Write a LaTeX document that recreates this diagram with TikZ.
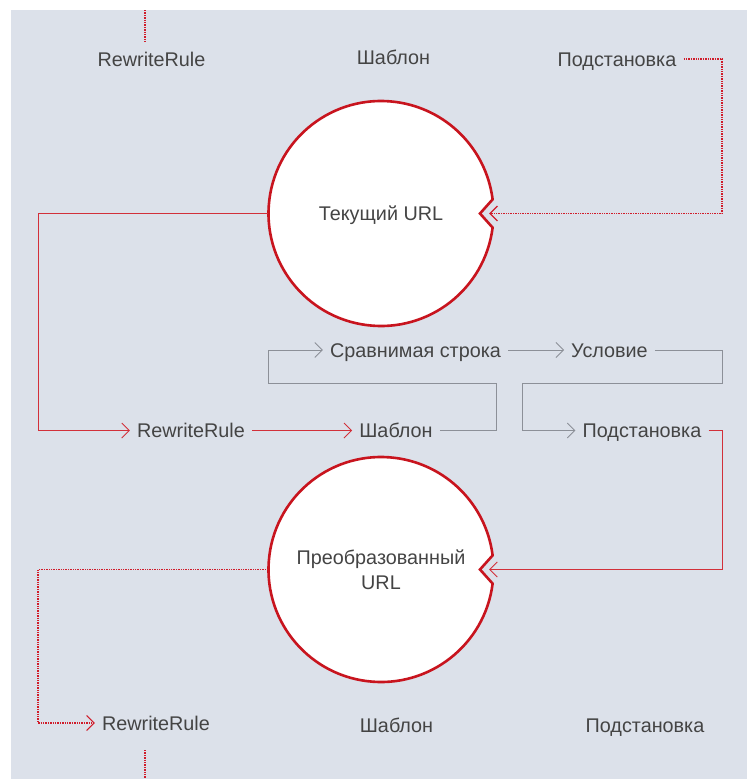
\documentclass[tikz,border=0pt]{standalone}
\usepackage{fontspec}
\setmainfont{Liberation Sans}
\usetikzlibrary{arrows.meta,calc}
\definecolor{panel}{HTML}{DCE1EA}
\definecolor{urlred}{HTML}{C8141E}
\definecolor{linkred}{HTML}{D2303A}
\definecolor{dotred}{HTML}{D01C2A}
\definecolor{linkgray}{HTML}{8C9098}
\definecolor{txt}{HTML}{444444}
\begin{document}
\begin{tikzpicture}[x=1pt,y=-1pt,
  lbl/.style={text=txt, font=\fontsize{19.8}{25}\selectfont, inner ysep=0pt, inner xsep=7pt, text height=14pt, text depth=0pt},
  urlcircle/.style={circle, minimum size=225pt, inner sep=0pt, text=txt, font=\fontsize{19.8}{25}\selectfont, align=center},
  ring/.style={draw=urlred, line width=2.6pt, fill=white, line join=miter},
  tip/.style={-{Straight Barb[length=7.5pt,width=15pt]}},
  redline/.style={draw=linkred, line width=0.9pt},
  grayline/.style={draw=linkgray, line width=0.9pt},
  reddots/.style={draw=dotred, line width=1.1pt, dash pattern=on 1.4pt off 1pt},
]
\useasboundingbox (0,0) rectangle (752,779);
\fill[panel] (11,10) rectangle (747,779);

% circles
\coordinate (c1) at (381,213.5);
\coordinate (c2) at (381,569.5);
\draw[ring] ([shift={(7.2:112.5)}]c1) arc[start angle=7.2, end angle=352.8, radius=112.5] -- ([shift={(99,0)}]c1) -- cycle;
\draw[ring] ([shift={(7.2:112.5)}]c2) arc[start angle=7.2, end angle=352.8, radius=112.5] -- ([shift={(99,0)}]c2) -- cycle;
\node[urlcircle, text depth=0pt, text height=14pt] (cur) at (c1) {Текущий URL};
\node[urlcircle] (conv) at (c2) {Преобразованный\\URL};

% labels
\node[lbl] (rrTop)  at (151.5,59) {RewriteRule};
\node[lbl] (tplTop) at (393.5,57) {Шаблон};
\node[lbl] (subTop) at (617,59)   {Подстановка};
\node[lbl] (cmp)    at (415.5,350) {Сравнимая строка};
\node[lbl] (cond)   at (609.5,350) {Условие};
\node[lbl] (rrMid)  at (191,430.5) {RewriteRule};
\node[lbl] (tplMid) at (396,430.5) {Шаблон};
\node[lbl] (subMid) at (642,430.5) {Подстановка};
\node[lbl] (rrBot)  at (156,723) {RewriteRule};
\node[lbl] (tplBot) at (396.5,725) {Шаблон};
\node[lbl] (subBot) at (645,725) {Подстановка};

% helper coordinates
\coordinate (topA) at (145,10);
\coordinate (topB) at (145,42);
\coordinate (botA) at (145,750);
\coordinate (botB) at (145,779);
\coordinate (rtop) at (722,213.5);
\coordinate (lx)   at (38,430.5);
\coordinate (ga)   at (496,383);
\coordinate (gb)   at (268,383);
\coordinate (gc)   at (722,383);
\coordinate (gd)   at (522,383);
\coordinate (re)   at (722,569.5);
\coordinate (lb)   at (38,723);

% connectors
\draw[reddots] (topA) -- (topB);
\draw[reddots] (botA) -- (botB);
\draw[reddots, tip] (subTop.east) -| (rtop) -- ($(cur.east)+(-4.5,0)$);
\draw[redline, tip] (cur.west) -| (lx) -- (rrMid.west);
\draw[redline, tip] (rrMid.east) -- (tplMid.west);
\draw[grayline, tip] (tplMid.east) -| (ga) -- (gb) |- (cmp.west);
\draw[grayline, tip] (cmp.east) -- (cond.west);
\draw[grayline, tip] (cond.east) -| (gc) -- (gd) |- (subMid.west);
\draw[redline, tip] (subMid.east) -| (re) -- ($(conv.east)+(-4.5,0)$);
\draw[reddots, tip] (conv.west) -| (lb) -- (rrBot.west);
\end{tikzpicture}
\end{document}
